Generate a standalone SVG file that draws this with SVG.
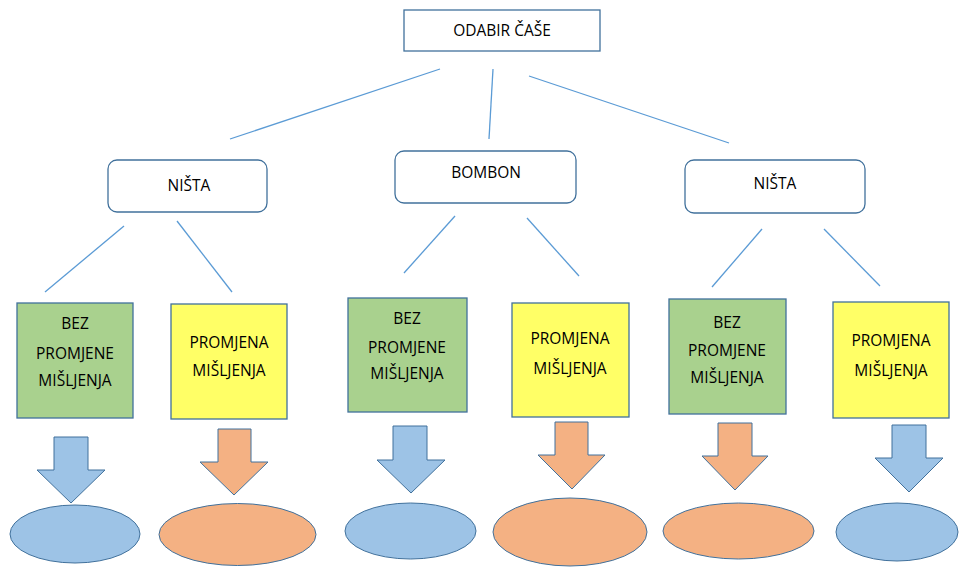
<svg xmlns="http://www.w3.org/2000/svg" width="959" height="567" viewBox="0 0 959 567">
<style>
.t{font-family:"Open Sans","Liberation Sans",sans-serif;font-size:15.5px;fill:#000;text-anchor:middle}
.top{fill:#fff;stroke:#41719C;stroke-width:1.3}
.rr{fill:#fff;stroke:#41719C;stroke-width:1.3}
.g{fill:#A9D18E;stroke:#41719C;stroke-width:1.3}
.y{fill:#FFFF66;stroke:#41719C;stroke-width:1.3}
.b{fill:#9DC3E6;stroke:#41719C;stroke-width:1}
.o{fill:#F4B183;stroke:#41719C;stroke-width:1}
.c line{stroke:#5B9BD5;stroke-width:1.3}
</style>
<rect width="959" height="567" fill="#fff"/>
<g id="connectors" class="c">
<line x1="440" y1="69" x2="230" y2="139"/>
<line x1="493" y1="69" x2="489" y2="139"/>
<line x1="529" y1="76" x2="729" y2="143"/>
<line x1="124" y1="226" x2="45" y2="292"/>
<line x1="177" y1="221" x2="232" y2="292"/>
<line x1="455" y1="216" x2="404" y2="273"/>
<line x1="527" y1="218" x2="579" y2="276"/>
<line x1="762" y1="229" x2="712" y2="287"/>
<line x1="824" y1="229" x2="880" y2="286"/>
</g>
<g id="odabir"><rect class="top" x="404" y="10" width="196" height="41"/><text class="t" x="502" y="36">ODABIR ČAŠE</text></g>
<g id="nista1"><rect class="rr" x="108" y="160" width="159" height="52" rx="9"/><text class="t" x="189" y="191">NIŠTA</text></g>
<g id="bombon"><rect class="rr" x="395" y="151" width="181" height="52" rx="9"/><text class="t" x="486" y="178">BOMBON</text></g>
<g id="nista2"><rect class="rr" x="685" y="160" width="180" height="53" rx="9"/><text class="t" x="775" y="189">NIŠTA</text></g>

<g id="box1"><rect class="g" x="17" y="303" width="116" height="115"/><text class="t" x="75" y="329">BEZ</text><text class="t" x="75" y="359">PROMJENE</text><text class="t" x="75" y="386">MIŠLJENJA</text></g>
<g id="box2"><rect class="y" x="171" y="304" width="116" height="115"/><text class="t" x="229" y="348">PROMJENA</text><text class="t" x="229" y="376">MIŠLJENJA</text></g>
<g id="box3"><rect class="g" x="348" y="298" width="119" height="114"/><text class="t" x="407" y="324">BEZ</text><text class="t" x="407" y="353">PROMJENE</text><text class="t" x="407" y="379">MIŠLJENJA</text></g>
<g id="box4"><rect class="y" x="512" y="303" width="117" height="114"/><text class="t" x="570" y="344">PROMJENA</text><text class="t" x="570" y="374">MIŠLJENJA</text></g>
<g id="box5"><rect class="g" x="669" y="299" width="117" height="115"/><text class="t" x="727" y="328">BEZ</text><text class="t" x="727" y="356">PROMJENE</text><text class="t" x="727" y="383">MIŠLJENJA</text></g>
<g id="box6"><rect class="y" x="833" y="302" width="116" height="116"/><text class="t" x="891" y="346">PROMJENA</text><text class="t" x="891" y="376">MIŠLJENJA</text></g>

<g id="arrow1"><polygon class="b" points="54,437 88,437 88,470 105,470 71,503 37,470 54,470"/></g>
<g id="arrow2"><polygon class="o" points="218,429 251,429 251,462 268,462 234,495 200,462 218,462"/></g>
<g id="arrow3"><polygon class="b" points="393,426 427,426 427,460 445,460 411,493 377,460 393,460"/></g>
<g id="arrow4"><polygon class="o" points="555,422 588,422 588,455 605,455 572,489 538,455 555,455"/></g>
<g id="arrow5"><polygon class="o" points="718,423 752,423 752,456 768,456 735,490 702,456 718,456"/></g>
<g id="arrow6"><polygon class="b" points="892,425 926,425 926,458 943,458 909,492 875,458 892,458"/></g>

<g id="ell1"><ellipse class="b" cx="75" cy="534" rx="65" ry="29"/></g>
<g id="ell2"><ellipse class="o" cx="237.5" cy="534.5" rx="78.5" ry="31"/></g>
<g id="ell3"><ellipse class="b" cx="410.5" cy="531" rx="65.5" ry="28"/></g>
<g id="ell4"><ellipse class="o" cx="570" cy="532" rx="77" ry="34"/></g>
<g id="ell5"><ellipse class="o" cx="738.5" cy="531" rx="75.5" ry="28"/></g>
<g id="ell6"><ellipse class="b" cx="897" cy="532" rx="61" ry="29"/></g>
</svg>
